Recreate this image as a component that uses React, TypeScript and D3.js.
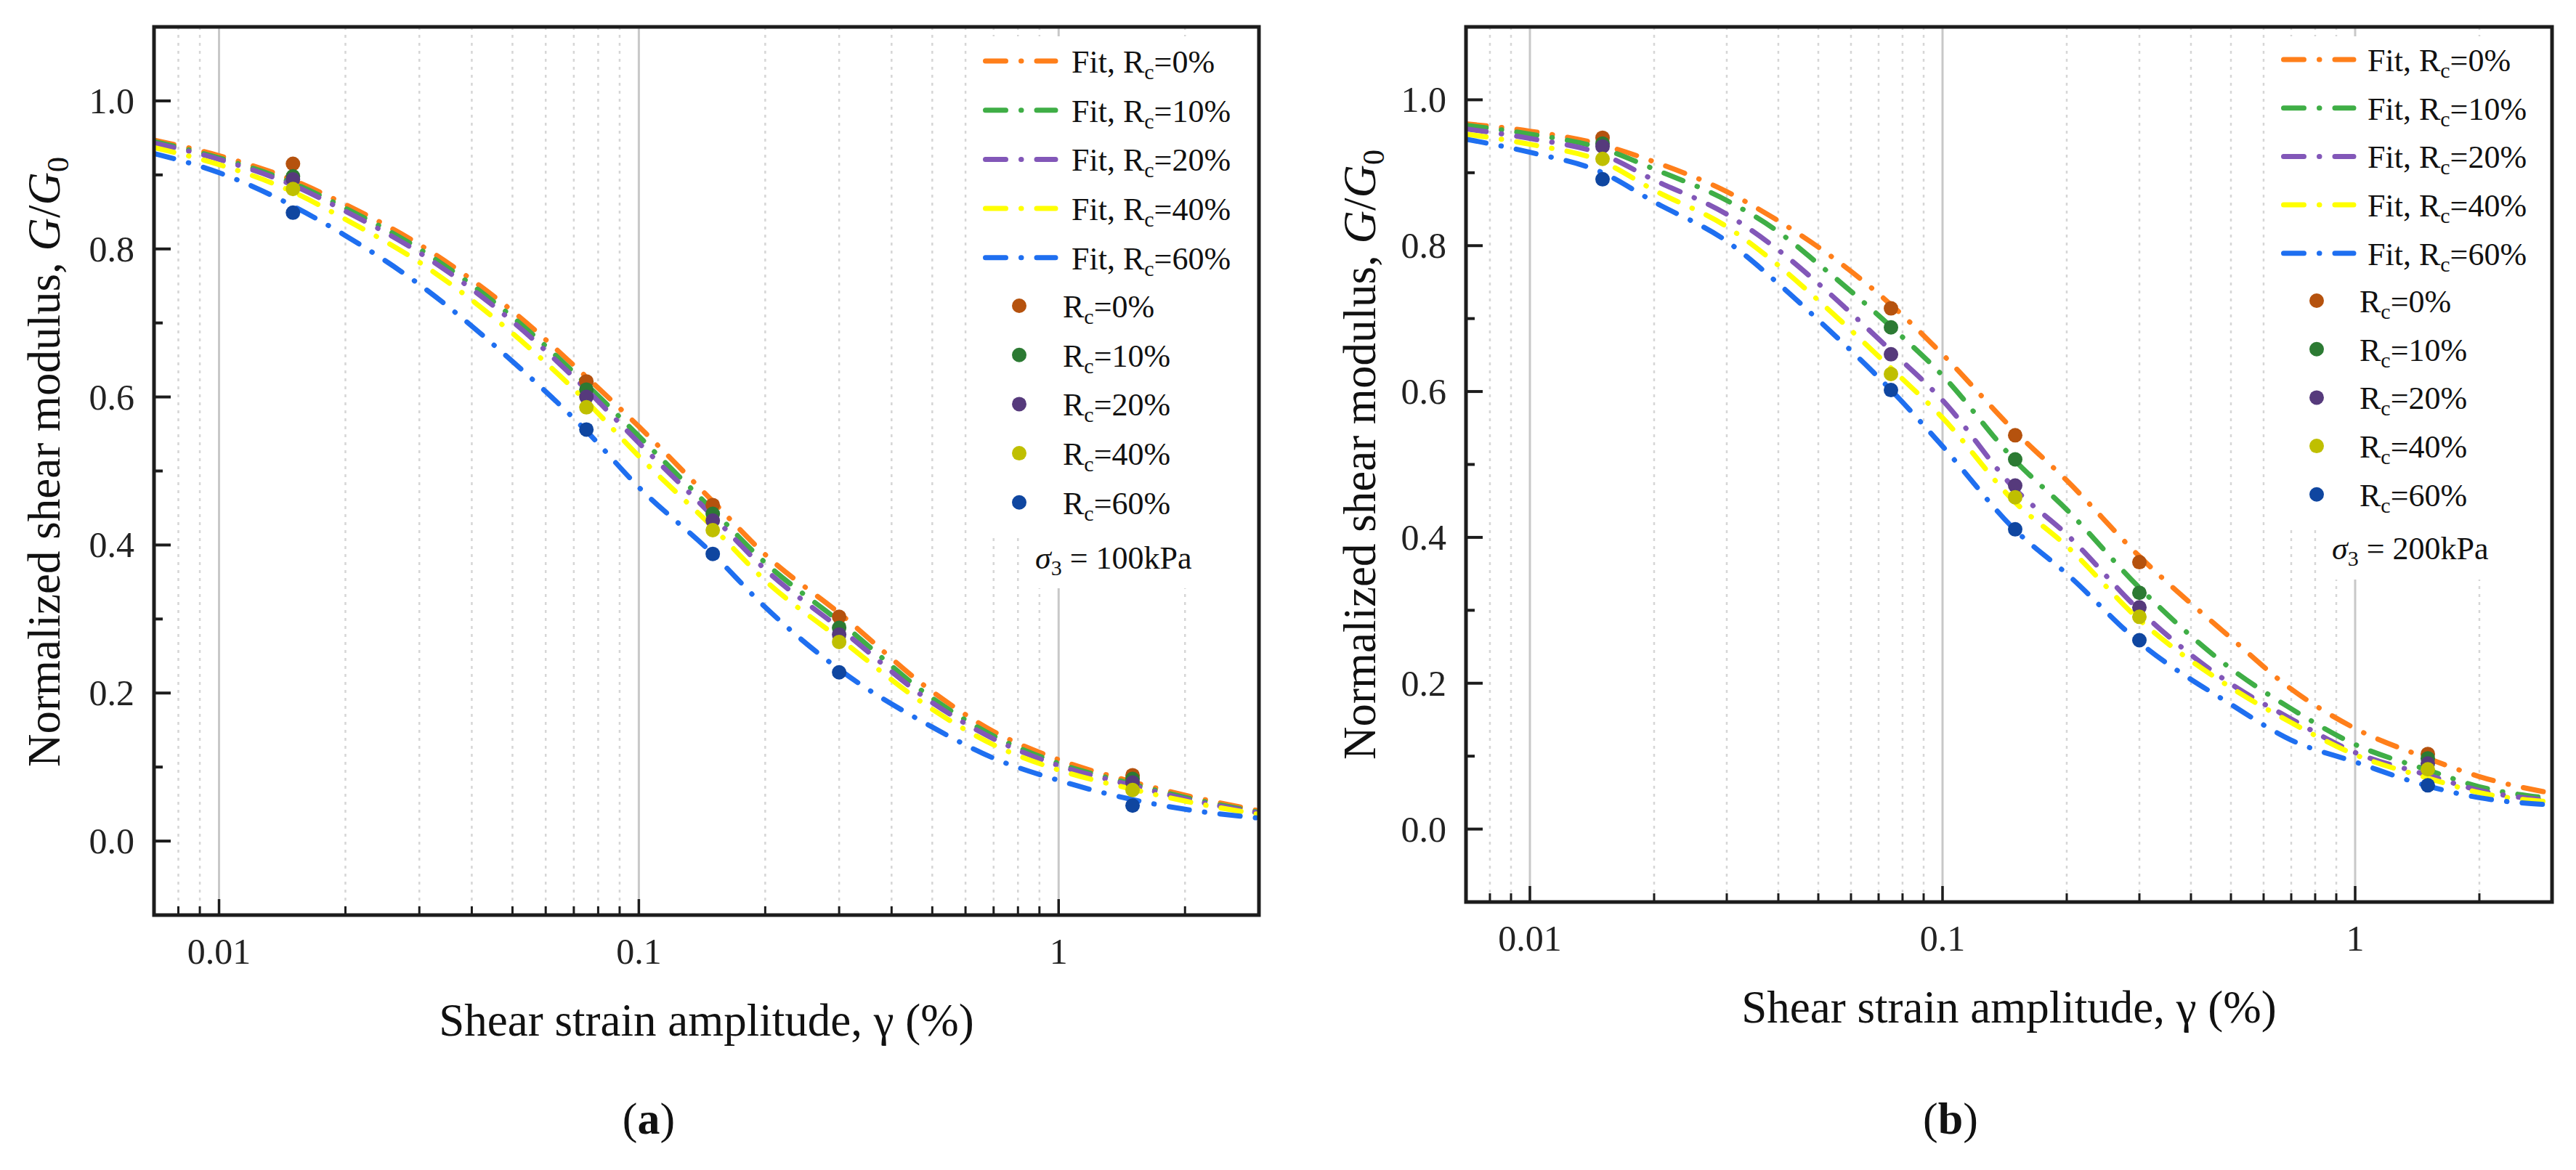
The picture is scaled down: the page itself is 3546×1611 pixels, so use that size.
import { useEffect, useRef } from 'react';
import * as d3 from 'd3';

const rcLabels = ['0%', '10%', '20%', '40%', '60%'];
const lineColors = ['#ff7f1a', '#3fae46', '#8257b8', '#ffff00', '#1f6ff0'];
const markerColors = ['#b5520e', '#2c7a33', '#563a7c', '#bfbf00', '#0f46a0'];

// measured points (same strains in both panels)
const testStrain = [0.015, 0.075, 0.15, 0.3, 1.5];

// sigma3 = 100 kPa
const test100Rc0 = [0.915, 0.621, 0.454, 0.303, 0.089];
const test100Rc10 = [0.898, 0.61, 0.442, 0.288, 0.084];
const test100Rc20 = [0.894, 0.6, 0.433, 0.279, 0.079];
const test100Rc40 = [0.881, 0.586, 0.42, 0.269, 0.069];
const test100Rc60 = [0.849, 0.556, 0.388, 0.228, 0.048];

const fitStrain100 = [0.007, 0.01, 0.015, 0.02, 0.03, 0.05, 0.075, 0.1, 0.15, 0.2, 0.3, 0.5, 0.7, 1, 1.5, 2, 3];
const fit100Rc0 = [0.947, 0.926, 0.893, 0.86, 0.806, 0.716, 0.627, 0.56, 0.459, 0.387, 0.308, 0.202, 0.148, 0.11, 0.08, 0.062, 0.041];
const fit100Rc10 = [0.945, 0.923, 0.889, 0.855, 0.8, 0.708, 0.617, 0.547, 0.447, 0.376, 0.297, 0.193, 0.142, 0.105, 0.077, 0.059, 0.039];
const fit100Rc20 = [0.943, 0.921, 0.886, 0.851, 0.795, 0.702, 0.61, 0.538, 0.439, 0.367, 0.288, 0.187, 0.138, 0.102, 0.075, 0.057, 0.038];
const fit100Rc40 = [0.937, 0.914, 0.877, 0.84, 0.782, 0.686, 0.594, 0.52, 0.424, 0.352, 0.274, 0.178, 0.13, 0.096, 0.07, 0.054, 0.036];
const fit100Rc60 = [0.929, 0.903, 0.858, 0.818, 0.752, 0.648, 0.554, 0.478, 0.388, 0.316, 0.232, 0.154, 0.112, 0.082, 0.056, 0.043, 0.031];

// sigma3 = 200 kPa
const test200Rc0 = [0.948, 0.714, 0.54, 0.366, 0.103];
const test200Rc10 = [0.94, 0.688, 0.507, 0.324, 0.097];
const test200Rc20 = [0.936, 0.651, 0.471, 0.304, 0.09];
const test200Rc40 = [0.919, 0.624, 0.455, 0.291, 0.082];
const test200Rc60 = [0.891, 0.602, 0.411, 0.259, 0.06];

const fitStrain200 = [0.007, 0.01, 0.015, 0.02, 0.03, 0.04, 0.05, 0.075, 0.1, 0.15, 0.2, 0.3, 0.5, 0.7, 1, 1.5, 2, 3];
const fit200Rc0 = [0.967, 0.957, 0.938, 0.915, 0.874, 0.834, 0.798, 0.719, 0.651, 0.545, 0.478, 0.374, 0.262, 0.192, 0.138, 0.097, 0.072, 0.049];
const fit200Rc10 = [0.965, 0.953, 0.933, 0.905, 0.862, 0.819, 0.775, 0.689, 0.622, 0.505, 0.438, 0.331, 0.22, 0.165, 0.116, 0.081, 0.058, 0.042];
const fit200Rc20 = [0.96, 0.947, 0.925, 0.89, 0.843, 0.794, 0.748, 0.656, 0.588, 0.466, 0.404, 0.3, 0.199, 0.151, 0.105, 0.074, 0.053, 0.039];
const fit200Rc40 = [0.953, 0.939, 0.915, 0.876, 0.826, 0.773, 0.725, 0.632, 0.564, 0.448, 0.388, 0.287, 0.194, 0.146, 0.102, 0.07, 0.05, 0.037];
const fit200Rc60 = [0.946, 0.928, 0.9, 0.86, 0.806, 0.748, 0.698, 0.602, 0.525, 0.41, 0.35, 0.256, 0.171, 0.122, 0.092, 0.059, 0.043, 0.033];

const xTickValues = [0.01, 0.1, 1];
const xTickLabels = ['0.01', '0.1', '1'];
const yTickValues = [0, 0.2, 0.4, 0.6, 0.8, 1.0];
const yTickLabels = ['0.0', '0.2', '0.4', '0.6', '0.8', '1.0'];

const W = 3546;
const H = 1611;
const serif = '"Liberation Serif", "Times New Roman", serif';

const panels = [
  {
    id: 'a', sigma: '100kPa',
    fitStrain: fitStrain100,
    fits: [fit100Rc0, fit100Rc10, fit100Rc20, fit100Rc40, fit100Rc60],
    tests: [test100Rc0, test100Rc10, test100Rc20, test100Rc40, test100Rc60],
    left: 212, right: 1733, top: 37, bottom: 1260,
    yTitleX: 82, yTitleY: 636, tagX: 893,
    lg: { lineX: 1353, textX: 1475, markX: 1403, markTextX: 1463, sigmaX: 1425, fitY0: 84, markY0: 421, step: 67.7, sigmaY: 783, boxX: 1340, boxBottom: 740, sigmaBottom: 810 },
  },
  {
    id: 'b', sigma: '200kPa',
    fitStrain: fitStrain200,
    fits: [fit200Rc0, fit200Rc10, fit200Rc20, fit200Rc40, fit200Rc60],
    tests: [test200Rc0, test200Rc10, test200Rc20, test200Rc40, test200Rc60],
    left: 2018, right: 3513, top: 37, bottom: 1242,
    yTitleX: 1893, yTitleY: 626, tagX: 2685,
    lg: { lineX: 3140, textX: 3259, markX: 3189, markTextX: 3248, sigmaX: 3210, fitY0: 82, markY0: 414, step: 66.7, sigmaY: 770, boxX: 3130, boxBottom: 724, sigmaBottom: 798 },
  },
];

const dash = '28 21 0.5 21';

export default function App() {
  const svgRef = useRef<SVGSVGElement>(null);

  useEffect(() => {
    if (!svgRef.current) return;
    const svg = d3.select(svgRef.current);
    svg.selectAll('*').remove();

    svg.append('rect').attr('width', W).attr('height', H).attr('fill', '#ffffff');

    panels.forEach((p) => {
      const g = svg.append('g');
      const x = d3.scaleLog().domain([0.007, 3]).range([p.left, p.right]);
      const y = d3.scaleLinear().domain([-0.1, 1.1]).range([p.bottom, p.top]);

      const allX = x.ticks();
      const minorX = allX.filter((t) => !xTickValues.some((m) => Math.abs(m - t) < 1e-9));
      const minorY = y.ticks(12).filter((t) => !yTickValues.some((m) => Math.abs(m - t) < 1e-9) && t > -0.09 && t < 1.09);

      // grid lines (vertical only)
      g.selectAll('.minor-grid')
        .data(minorX)
        .enter()
        .append('line')
        .attr('x1', (d) => x(d)).attr('x2', (d) => x(d))
        .attr('y1', p.top).attr('y2', p.bottom)
        .attr('stroke', '#d6d6d6').attr('stroke-width', 2.5)
        .attr('stroke-dasharray', '4 7');

      g.selectAll('.major-grid')
        .data(xTickValues)
        .enter()
        .append('line')
        .attr('x1', (d) => x(d)).attr('x2', (d) => x(d))
        .attr('y1', p.top).attr('y2', p.bottom)
        .attr('stroke', '#c8c8c8').attr('stroke-width', 3);

      // legend backgrounds hide the grid
      g.append('rect')
        .attr('x', p.lg.boxX).attr('y', p.top + 13)
        .attr('width', p.right - 8 - p.lg.boxX).attr('height', p.lg.boxBottom - p.top - 13)
        .attr('fill', '#ffffff');
      g.append('rect')
        .attr('x', p.lg.sigmaX - 12).attr('y', p.lg.boxBottom - 2)
        .attr('width', p.right - 20 - p.lg.sigmaX).attr('height', p.lg.sigmaBottom - p.lg.boxBottom + 2)
        .attr('fill', '#ffffff');

      // clip for curves
      const clipId = `clip-${p.id}`;
      svg.append('clipPath').attr('id', clipId)
        .append('rect')
        .attr('x', p.left).attr('y', p.top)
        .attr('width', p.right - p.left).attr('height', p.bottom - p.top);

      const line = d3.line<number>()
        .x((_, i) => x(p.fitStrain[i]))
        .y((d) => y(d))
        .curve(d3.curveMonotoneX);

      p.fits.forEach((vals, k) => {
        g.append('path')
          .attr('d', line(vals) || '')
          .attr('clip-path', `url(#${clipId})`)
          .attr('fill', 'none')
          .attr('stroke', lineColors[k])
          .attr('stroke-width', 7)
          .attr('stroke-linecap', 'round')
          .attr('stroke-dasharray', dash);
      });

      p.tests.forEach((vals, k) => {
        g.selectAll(`.pt-${k}`)
          .data(vals)
          .enter()
          .append('circle')
          .attr('cx', (_, i) => x(testStrain[i]))
          .attr('cy', (d) => y(d))
          .attr('r', 10)
          .attr('fill', markerColors[k]);
      });

      // frame
      g.append('rect')
        .attr('x', p.left).attr('y', p.top)
        .attr('width', p.right - p.left).attr('height', p.bottom - p.top)
        .attr('fill', 'none').attr('stroke', '#1c1c1c').attr('stroke-width', 5);

      // ticks (inward)
      g.selectAll('.xmaj')
        .data(xTickValues)
        .enter()
        .append('line')
        .attr('x1', (d) => x(d)).attr('x2', (d) => x(d))
        .attr('y1', p.bottom).attr('y2', p.bottom - 22)
        .attr('stroke', '#1c1c1c').attr('stroke-width', 3.5);
      g.selectAll('.xmin')
        .data(minorX)
        .enter()
        .append('line')
        .attr('x1', (d) => x(d)).attr('x2', (d) => x(d))
        .attr('y1', p.bottom).attr('y2', p.bottom - 12)
        .attr('stroke', '#1c1c1c').attr('stroke-width', 3);
      g.selectAll('.ymaj')
        .data(yTickValues)
        .enter()
        .append('line')
        .attr('x1', p.left).attr('x2', p.left + 23)
        .attr('y1', (d) => y(d)).attr('y2', (d) => y(d))
        .attr('stroke', '#1c1c1c').attr('stroke-width', 4);
      g.selectAll('.ymin')
        .data(minorY)
        .enter()
        .append('line')
        .attr('x1', p.left).attr('x2', p.left + 12)
        .attr('y1', (d) => y(d)).attr('y2', (d) => y(d))
        .attr('stroke', '#1c1c1c').attr('stroke-width', 4);

      // tick labels
      g.selectAll('.xlab')
        .data(xTickValues)
        .enter()
        .append('text')
        .attr('x', (d) => x(d))
        .attr('y', p.bottom + 67)
        .attr('text-anchor', 'middle')
        .attr('font-family', serif).attr('font-size', 50).attr('fill', '#222')
        .text((_, i) => xTickLabels[i]);
      g.selectAll('.ylab')
        .data(yTickValues)
        .enter()
        .append('text')
        .attr('x', p.left - 27)
        .attr('y', (d) => y(d) + 17)
        .attr('text-anchor', 'end')
        .attr('font-family', serif).attr('font-size', 50).attr('fill', '#222')
        .text((_, i) => yTickLabels[i]);

      // axis titles
      g.append('text')
        .attr('x', (p.left + p.right) / 2)
        .attr('y', p.bottom + 166)
        .attr('text-anchor', 'middle')
        .attr('font-family', serif).attr('font-size', 63).attr('fill', '#111')
        .text('Shear strain amplitude, γ (%)');

      const yt = g.append('text')
        .attr('transform', `translate(${p.yTitleX},${p.yTitleY}) rotate(-90)`)
        .attr('text-anchor', 'middle')
        .attr('font-family', serif).attr('font-size', 63).attr('fill', '#111');
      yt.append('tspan').text('Normalized shear modulus, ');
      yt.append('tspan').attr('font-style', 'italic').text('G');
      yt.append('tspan').text('/');
      yt.append('tspan').attr('font-style', 'italic').text('G');
      yt.append('tspan').attr('font-size', 42).attr('dy', 12).text('0');

      // legend
      const lg = p.lg;
      rcLabels.forEach((lab, k) => {
        const cy = lg.fitY0 + k * lg.step;
        g.append('path')
          .attr('d', `M${lg.lineX + 3.5},${cy}H${lg.lineX + 100}`)
          .attr('stroke', lineColors[k]).attr('stroke-width', 7)
          .attr('stroke-linecap', 'round').attr('stroke-dasharray', dash)
          .attr('fill', 'none');
        const t = g.append('text')
          .attr('x', lg.textX).attr('y', cy + 16)
          .attr('font-family', serif).attr('font-size', 44).attr('fill', '#111');
        t.append('tspan').text('Fit, R');
        t.append('tspan').attr('font-size', 30).attr('dy', 9).text('c');
        t.append('tspan').attr('dy', -9).text(`=${lab}`);

        const my = lg.markY0 + k * lg.step;
        g.append('circle').attr('cx', lg.markX).attr('cy', my).attr('r', 10).attr('fill', markerColors[k]);
        const t2 = g.append('text')
          .attr('x', lg.markTextX).attr('y', my + 16)
          .attr('font-family', serif).attr('font-size', 44).attr('fill', '#111');
        t2.append('tspan').text('R');
        t2.append('tspan').attr('font-size', 30).attr('dy', 9).text('c');
        t2.append('tspan').attr('dy', -9).text(`=${lab}`);
      });

      const st = g.append('text')
        .attr('x', lg.sigmaX).attr('y', lg.sigmaY)
        .attr('font-family', serif).attr('font-size', 44).attr('fill', '#111');
      st.append('tspan').attr('font-style', 'italic').text('σ');
      st.append('tspan').attr('font-size', 30).attr('dy', 9).text('3');
      st.append('tspan').attr('dy', -9).text(` = ${p.sigma}`);

      // panel tag
      const tag = g.append('text')
        .attr('x', p.tagX).attr('y', 1561)
        .attr('text-anchor', 'middle')
        .attr('font-family', serif).attr('font-size', 62).attr('fill', '#111');
      tag.append('tspan').text('(');
      tag.append('tspan').attr('font-weight', 'bold').text(p.id);
      tag.append('tspan').text(')');
    });
  }, []);

  return (
    <svg
      ref={svgRef}
      width={W}
      height={H}
      style={{ position: 'absolute', left: 0, top: 0, display: 'block' }}
    />
  );
}
